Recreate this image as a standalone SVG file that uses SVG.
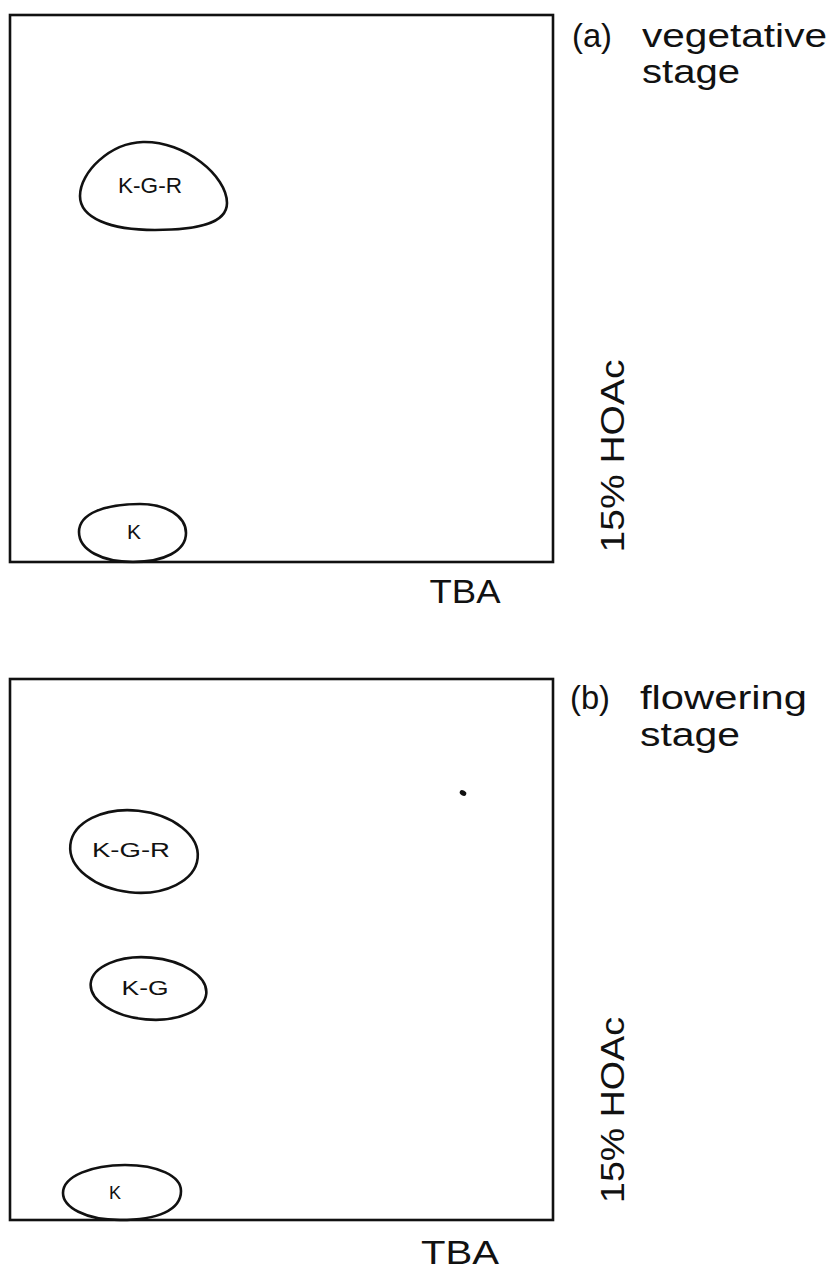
<svg xmlns="http://www.w3.org/2000/svg" width="838" height="1273" viewBox="0 0 838 1273">
<style>
.frame{fill:none;stroke:#111;stroke-width:2.6}
.spot{fill:none;stroke:#111;stroke-width:2.6}
.lbl{font-family:"Liberation Sans",Arial,sans-serif;fill:#111}
.big{font-size:33px}
.spotlbl{text-anchor:middle}
.axis{font-size:34px;text-anchor:middle}
</style>
<rect width="838" height="1273" fill="#fff"/>

<g id="panel-a">
  <rect class="frame" x="10" y="15" width="543" height="547"/>
  <text class="lbl big" x="572" y="47" textLength="40" lengthAdjust="spacingAndGlyphs">(a)</text>
  <text class="lbl big" x="642" y="47" textLength="185" lengthAdjust="spacingAndGlyphs">vegetative</text>
  <text class="lbl big" x="642" y="83" textLength="98" lengthAdjust="spacingAndGlyphs">stage</text>
  <text class="lbl axis" x="465" y="603" textLength="71" lengthAdjust="spacingAndGlyphs">TBA</text>
  <text class="lbl axis" transform="translate(624,456) rotate(-90)" x="0" y="0" textLength="193" lengthAdjust="spacingAndGlyphs">15% HOAc</text>
</g>

<g id="a-KGR">
  <path class="spot" d="M143,142 C185,141 227,176 227,203 C227,224 196,230 155,230 C110,230 80,218 80,196 C80,172 110,143 143,142 Z"/>
  <text class="lbl spotlbl" x="150" y="193" font-size="22" textLength="64" lengthAdjust="spacingAndGlyphs">K-G-R</text>
</g>

<g id="a-K">
  <path class="spot" d="M140,504 C166,504 186,516 186,533 C186,551 164,562 133,562 C102,562 79,550 79,532 C79,513 106,504 140,504 Z"/>
  <text class="lbl spotlbl" x="134" y="539" font-size="21">K</text>
</g>

<g id="panel-b">
  <rect class="frame" x="10" y="679" width="543" height="541"/>
  <text class="lbl big" x="570" y="709" textLength="40" lengthAdjust="spacingAndGlyphs">(b)</text>
  <text class="lbl big" x="640" y="709" textLength="167" lengthAdjust="spacingAndGlyphs">flowering</text>
  <text class="lbl big" x="640" y="746" textLength="100" lengthAdjust="spacingAndGlyphs">stage</text>
  <text class="lbl axis" x="460" y="1264" textLength="78" lengthAdjust="spacingAndGlyphs">TBA</text>
  <text class="lbl axis" transform="translate(624,1110) rotate(-90)" x="0" y="0" textLength="186" lengthAdjust="spacingAndGlyphs">15% HOAc</text>
  <ellipse cx="463" cy="793" rx="3.5" ry="2.5" transform="rotate(30 463 793)" fill="#111"/>
</g>

<g id="b-KGR">
  <ellipse class="spot" cx="134" cy="851.5" rx="64" ry="41" transform="rotate(6 134 851.5)"/>
  <text class="lbl spotlbl" x="131" y="857" font-size="20" textLength="78" lengthAdjust="spacingAndGlyphs">K-G-R</text>
</g>

<g id="b-KG">
  <ellipse class="spot" cx="148.5" cy="988.5" rx="58" ry="31" transform="rotate(5 148.5 988.5)"/>
  <text class="lbl spotlbl" x="145" y="995" font-size="21" textLength="47" lengthAdjust="spacingAndGlyphs">K-G</text>
</g>

<g id="b-K">
  <path class="spot" d="M125,1165 C158,1165 181,1176 181,1191 C181,1210 158,1220 120,1220 C85,1220 63,1207 63,1193 C63,1176 92,1165 125,1165 Z"/>
  <text class="lbl spotlbl" x="115" y="1199" font-size="18">K</text>
</g>

<g id="connectors"></g>
</svg>
